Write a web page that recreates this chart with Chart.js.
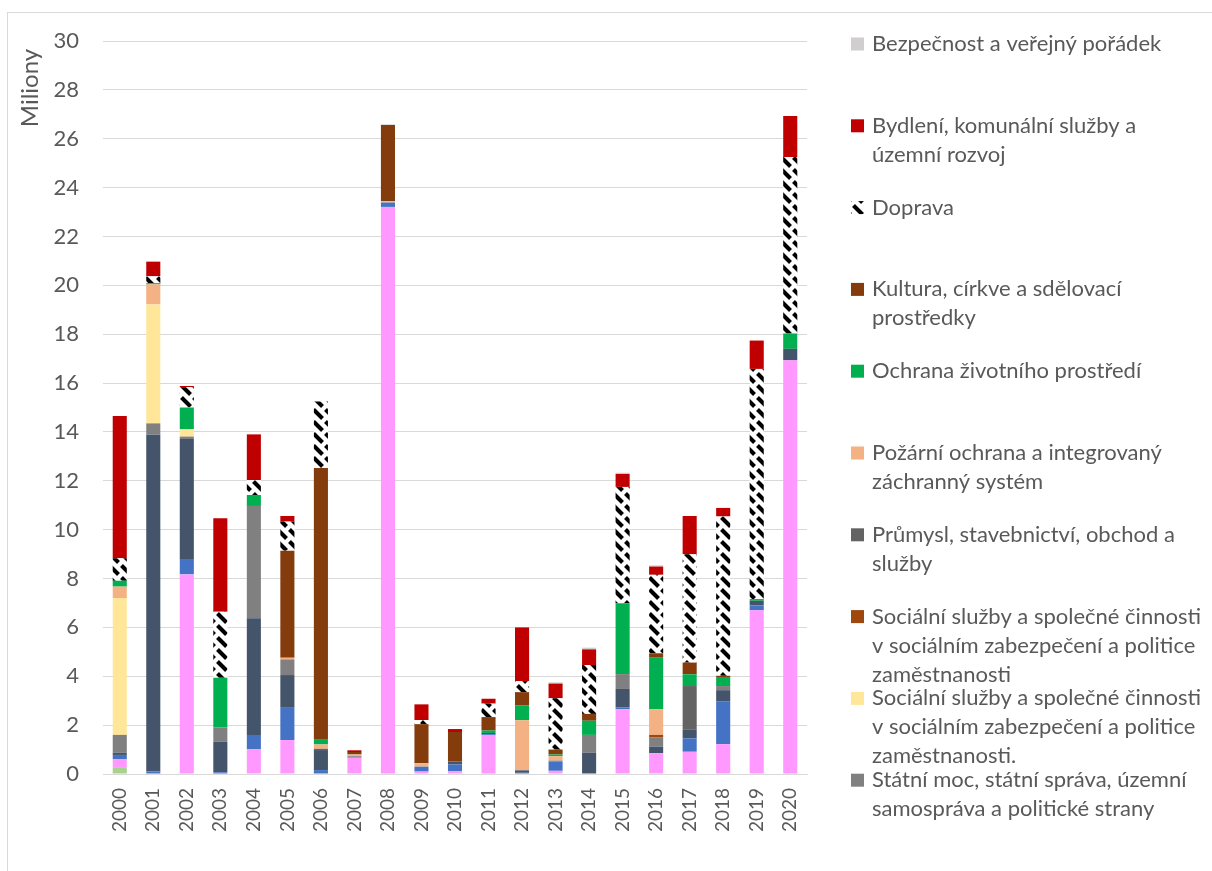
<!DOCTYPE html>
<html>
<head>
<meta charset="utf-8">
<script src="https://cdn.jsdelivr.net/npm/chart.js@4.4.1/dist/chart.umd.min.js"></script>
<style>
    html, body { margin: 0; padding: 0; background: #fff; }
    #wrap { position: absolute; left: 0; top: 0; width: 1212px; height: 871px; overflow: hidden; }
    #frame { position: absolute; left: 7px; top: 12px; width: 1230px; height: 900px; border: 1px solid #d9d9d9; }
    #chart { position: absolute; left: 0; top: 0; }
</style>
</head>
<body>
<div id="wrap">
    <div id="frame"></div>
    <canvas id="chart" width="1212" height="871"></canvas>
</div>
<script>
    const years = ['2000', '2001', '2002', '2003', '2004', '2005', '2006', '2007', '2008', '2009', '2010',
        '2011', '2012', '2013', '2014', '2015', '2016', '2017', '2018', '2019', '2020']

    const yTicks = [0, 2, 4, 6, 8, 10, 12, 14, 16, 18, 20, 22, 24, 26, 28, 30]

    // stacked bottom -> top, values in millions
    const zemedelstvi = [0.25, 0, 0, 0, 0, 0, 0, 0, 0, 0, 0, 0, 0, 0, 0, 0, 0, 0, 0, 0.03, 0]
    const zdravotnictvi = [0.35, 0, 8.17, 0, 1.01, 1.39, 0, 0.67, 23.21, 0.1, 0.12, 1.58, 0, 0.13, 0, 2.65, 0.85, 0.91, 1.22, 6.67, 16.93]
    const vzdelavani = [0.18, 0.1, 0.63, 0.07, 0.59, 1.32, 0.16, 0, 0.18, 0.2, 0.27, 0.05, 0.05, 0.37, 0, 0.08, 0, 0.55, 1.76, 0.2, 0]
    const telovychova = [0.09, 13.8, 4.91, 1.25, 4.77, 1.34, 0.82, 0.03, 0, 0, 0.12, 0.05, 0.1, 0, 0.87, 0.75, 0.27, 0.37, 0.45, 0.19, 0.47]
    const statniMoc = [0.73, 0.45, 0.1, 0.59, 4.6, 0.64, 0, 0.03, 0, 0, 0, 0, 0, 0.05, 0.73, 0.61, 0.37, 0, 0.17, 0, 0]
    const socialni2 = [5.6, 4.87, 0.3, 0, 0, 0, 0, 0, 0, 0, 0, 0, 0, 0, 0, 0, 0, 0, 0, 0, 0]
    const socialni = [0, 0, 0, 0, 0, 0, 0, 0, 0, 0, 0, 0, 0, 0, 0, 0, 0.11, 0, 0, 0, 0]
    const prumysl = [0, 0, 0, 0, 0, 0, 0.05, 0, 0, 0, 0, 0, 0, 0, 0, 0, 0, 1.77, 0, 0, 0]
    const pozarni = [0.47, 0.82, 0, 0, 0, 0.07, 0.18, 0.07, 0.05, 0.14, 0, 0, 2.05, 0.18, 0, 0, 1.05, 0, 0, 0, 0]
    const ochrana = [0.24, 0.05, 0.89, 2.03, 0.45, 0, 0.19, 0, 0, 0, 0, 0.1, 0.6, 0.07, 0.58, 2.9, 2.11, 0.48, 0.37, 0.07, 0.63]
    const kultura = [0, 0, 0, 0, 0, 4.38, 11.12, 0.1, 3.12, 1.6, 1.21, 0.55, 0.55, 0.2, 0.28, 0, 0.18, 0.48, 0.05, 0, 0]
    const doprava = [0.92, 0.28, 0.83, 2.7, 0.61, 1.19, 2.73, 0, 0, 0.17, 0, 0.55, 0.45, 2.1, 2.0, 4.76, 3.21, 4.43, 6.52, 9.42, 7.22]
    const bydleni = [5.82, 0.6, 0.05, 3.83, 1.87, 0.23, 0, 0.07, 0, 0.64, 0.12, 0.2, 2.2, 0.6, 0.64, 0.53, 0.34, 1.57, 0.35, 1.16, 1.68]
    const bezpecnost = [0, 0, 0, 0, 0, 0, 0, 0, 0.03, 0, 0, 0, 0, 0.05, 0.07, 0.05, 0.05, 0, 0, 0, 0]

    const legendLines = {
        bezpecnost: ['Bezpečnost a veřejný pořádek'],
        bydleni: ['Bydlení, komunální služby a', 'územní rozvoj'],
        doprava: ['Doprava'],
        kultura: ['Kultura, církve a sdělovací', 'prostředky'],
        ochrana: ['Ochrana životního prostředí'],
        pozarni: ['Požární ochrana a integrovaný', 'záchranný systém'],
        prumysl: ['Průmysl, stavebnictví, obchod a', 'služby'],
        socialni: ['Sociální služby a společné činnosti', 'v sociálním zabezpečení a politice', 'zaměstnanosti'],
        socialni2: ['Sociální služby a společné činnosti', 'v sociálním zabezpečení a politice', 'zaměstnanosti.'],
        statniMoc: ['Státní moc, státní správa, územní', 'samospráva a politické strany'],
    }

    const FONT = 'Lato, "Open Sans", sans-serif'
    const TEXT = '#595959'

    // black dashes on white, like the excel diagonal pattern fill
    function hatch() {
        const c = document.createElement('canvas')
        c.width = 12
        c.height = 12
        const g = c.getContext('2d')
        g.fillStyle = '#fff'
        g.fillRect(0, 0, 12, 12)
        g.strokeStyle = '#000'
        g.lineWidth = 4
        g.beginPath()
        g.moveTo(1.5, 1.5)
        g.lineTo(10.5, 10.5)
        g.stroke()
        return g.createPattern(c, 'repeat')
    }

    function ds(label, data, color, key) {
        return {
            label,
            data,
            backgroundColor: color,
            borderWidth: 0,
            legendKey: key || null,
        }
    }

    const datasets = [
        ds('Zemědělství, lesní hospodářství a rybářství', zemedelstvi, '#A9D18E'),
        ds('Zdravotnictví', zdravotnictvi, '#FF99FF'),
        ds('Vzdělávání a školské služby', vzdelavani, '#4472C4'),
        ds('Tělovýchova a zájmová činnost', telovychova, '#44546A'),
        ds('Státní moc, státní správa, územní samospráva a politické strany', statniMoc, '#808080', 'statniMoc'),
        ds('Sociální služby a společné činnosti v sociálním zabezpečení a politice zaměstnanosti.', socialni2, '#FFE699', 'socialni2'),
        ds('Sociální služby a společné činnosti v sociálním zabezpečení a politice zaměstnanosti', socialni, '#9E480E', 'socialni'),
        ds('Průmysl, stavebnictví, obchod a služby', prumysl, '#636363', 'prumysl'),
        ds('Požární ochrana a integrovaný záchranný systém', pozarni, '#F4B183', 'pozarni'),
        ds('Ochrana životního prostředí', ochrana, '#00B050', 'ochrana'),
        ds('Kultura, církve a sdělovací prostředky', kultura, '#843C0C', 'kultura'),
        ds('Doprava', doprava, hatch(), 'doprava'),
        ds('Bydlení, komunální služby a územní rozvoj', bydleni, '#C00000', 'bydleni'),
        ds('Bezpečnost a veřejný pořádek', bezpecnost, '#D0CECE', 'bezpecnost'),
    ]

    // legend on the right, drawn by hand so the spacing matches
    const sideLegend = {
        id: 'sideLegend',
        afterDraw(chart) {
            const ctx = chart.ctx
            const items = chart.data.datasets.filter(d => d.legendKey).reverse()
            ctx.save()
            ctx.font = '22px ' + FONT
            ctx.textBaseline = 'middle'
            ctx.textAlign = 'left'
            items.forEach((d, i) => {
                const y = 44 + i * 81.8
                ctx.fillStyle = d.backgroundColor
                ctx.fillRect(851, y - 6.5, 13, 13)
                ctx.fillStyle = TEXT
                legendLines[d.legendKey].forEach((line, j) => ctx.fillText(line, 872, y + j * 29))
            })
            ctx.restore()
        }
    }

    const axisTitle = {
        id: 'axisTitle',
        afterDraw(chart) {
            const ctx = chart.ctx
            ctx.save()
            ctx.translate(30, 88)
            ctx.rotate(-Math.PI / 2)
            ctx.font = '24px ' + FONT
            ctx.fillStyle = TEXT
            ctx.textAlign = 'center'
            ctx.textBaseline = 'middle'
            ctx.fillText('Miliony', 0, 0)
            ctx.restore()
        }
    }

    const chart = new Chart(document.getElementById('chart'), {
        type: 'bar',
        data: { labels: years, datasets },
        plugins: [sideLegend, axisTitle],
        options: {
            responsive: false,
            animation: false,
            layout: { padding: { left: 0, top: 41, right: 405, bottom: 0 } },
            datasets: { bar: { barPercentage: 0.42, categoryPercentage: 1 } },
            plugins: { legend: { display: false }, tooltip: { enabled: false } },
            scales: {
                x: {
                    stacked: true,
                    grid: { display: false },
                    border: { display: true, color: '#d9d9d9', width: 1 },
                    ticks: {
                        color: TEXT, font: { family: FONT, size: 19 },
                        minRotation: 90, maxRotation: 90, padding: 6,
                    },
                    afterFit(scale) { scale.height = 97 },
                },
                y: {
                    stacked: true,
                    min: 0,
                    max: 30,
                    afterBuildTicks(scale) { scale.ticks = yTicks.map(v => ({ value: v })) },
                    grid: { color: '#d9d9d9', lineWidth: 1, drawTicks: false },
                    border: { display: false },
                    ticks: { color: TEXT, font: { family: FONT, size: 22 }, padding: 24 },
                    afterFit(scale) { scale.width = 103 },
                },
            },
        },
    })
</script>
</body>
</html>
